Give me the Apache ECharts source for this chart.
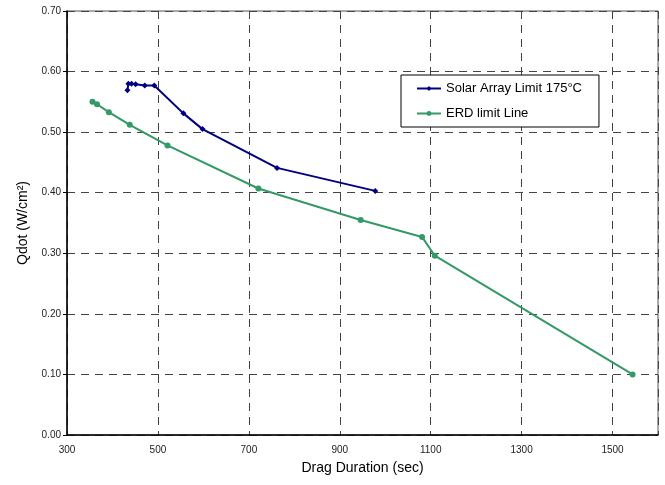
<!DOCTYPE html>
<html>
<head>
<meta charset="utf-8">
<script src="https://cdn.jsdelivr.net/npm/echarts@6/dist/echarts.min.js"></script>
<style>html,body{margin:0;padding:0;background:#fff}#c{width:665px;height:485px}</style>
</head>
<body>
<div id="c"></div>
<script>
const solarX = [433, 435, 442, 451, 471, 492, 556, 598, 762, 978];
const solarY = [0.569, 0.580, 0.580, 0.579, 0.577, 0.577, 0.531, 0.505, 0.441, 0.403];
const erdX = [356, 366, 392, 438, 521, 721, 946, 1081, 1109, 1544];
const erdY = [0.550, 0.546, 0.533, 0.512, 0.478, 0.407, 0.355, 0.327, 0.296, 0.100];
const seriesNames = ['Solar Array Limit 175°C', 'ERD limit Line'];

const zip = (xs, ys) => xs.map((x, i) => [x, ys[i]]);
const font = 'Liberation Sans, Arial, sans-serif';
const chart = echarts.init(document.getElementById('c'), null, {renderer: 'canvas'});
chart.setOption({
  animation: false,
  backgroundColor: '#fff',
  grid: {left: 67, right: 7, top: 11, bottom: 50, show: true, borderColor: '#555', borderWidth: 1},
  legend: {
    left: 401, top: 75,
    orient: 'vertical', padding: [7, 17, 7, 15], itemGap: 12,
    borderColor: '#000', borderWidth: 1, backgroundColor: '#fff',
    itemWidth: 24, itemHeight: 6,
    textStyle: {fontFamily: font, fontSize: 13, color: '#000'},
    data: seriesNames
  },
  xAxis: {
    type: 'value', min: 300, max: 1600, interval: 200,
    name: 'Drag Duration (sec)', nameLocation: 'middle', nameGap: 26,
    nameTextStyle: {fontFamily: font, fontSize: 14, color: '#000'},
    axisLine: {lineStyle: {color: '#000', width: 1.5}},
    axisTick: {show: false},
    axisLabel: {fontFamily: font, fontSize: 10, color: '#222', margin: 10,
      formatter: v => (v > 1500 ? '' : String(v))},
    splitLine: {show: true, lineStyle: {color: '#444', type: [8, 6], width: 1}}
  },
  yAxis: {
    type: 'value', min: 0, max: 0.7, interval: 0.1,
    name: 'Qdot (W/cm²)', nameLocation: 'middle', nameGap: 33,
    nameTextStyle: {fontFamily: font, fontSize: 14, color: '#000'},
    axisLine: {show: true, lineStyle: {color: '#000', width: 1.5}},
    axisTick: {show: true, length: 4, lineStyle: {color: '#000'}},
    axisLabel: {fontFamily: font, fontSize: 10, color: '#222', margin: 6,
      formatter: v => v.toFixed(2)},
    splitLine: {show: true, lineStyle: {color: '#444', type: [8, 6], width: 1}}
  },
  series: [
    {
      name: seriesNames[0], type: 'line', data: zip(solarX, solarY),
      symbol: 'diamond', symbolSize: 6,
      lineStyle: {color: '#000080', width: 2},
      itemStyle: {color: '#000080'}
    },
    {
      name: seriesNames[1], type: 'line', data: zip(erdX, erdY),
      symbol: 'circle', symbolSize: 6,
      lineStyle: {color: '#339966', width: 2},
      itemStyle: {color: '#339966'}
    }
  ]
});
</script>
</body>
</html>
